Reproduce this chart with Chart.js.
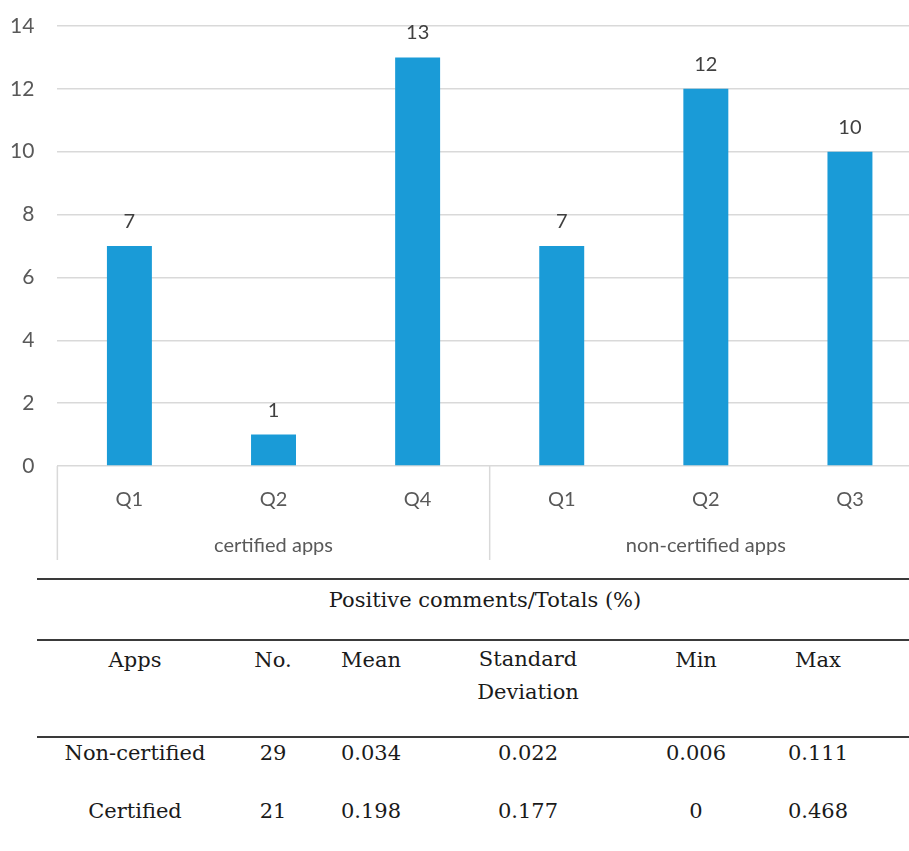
<!DOCTYPE html>
<html>
<head>
<meta charset="utf-8">
<script src="https://cdn.jsdelivr.net/npm/chart.js@4.4.0/dist/chart.umd.min.js"></script>
<style>
    body { margin: 0; background: #fff; width: 909px; height: 851px; overflow: hidden; position: relative; }
    #wrap { position: absolute; left: 0; top: 0; width: 922px; height: 566px; }
    .linea { position: absolute; left: 37px; width: 872px; height: 2px; background: #3a3a3a; }
    .txt { position: absolute; transform: translate(-50%, -50%); font-family: "DejaVu Serif", serif; font-size: 21px; color: #1a1a1a; white-space: nowrap; text-align: center; line-height: 33px; }
</style>
</head>
<body>
<div id="wrap"><canvas id="graficoQuartis"></canvas></div>
<div id="tabela"></div>
<script>
    // dados do grafico
    const quartis = ['Q1', 'Q2', 'Q4', 'Q1', 'Q2', 'Q3'];
    const grupos = ['certified apps', 'non-certified apps'];
    const tamanhoGrupos = [3, 3];
    const contagens = [7, 1, 13, 7, 12, 10];

    // dados da tabela
    const tituloTabela = 'Positive comments/Totals (%)';
    const cabecalhos = ['Apps', 'No.', 'Mean', 'Standard<br>Deviation', 'Min', 'Max'];
    const tipoApps = ['Non-certified', 'Certified'];
    const numApps = ['29', '21'];
    const medias = ['0.034', '0.198'];
    const desvios = ['0.022', '0.177'];
    const minimos = ['0.006', '0'];
    const maximos = ['0.111', '0.468'];

    const corTexto = '#595959';
    const fonteEixo = { family: 'Lato', size: 20 };

    // rotulos de valor em cima das barras
    const rotulosValor = {
        id: 'rotulosValor',
        afterDatasetsDraw(chart) {
            const ctx = chart.ctx;
            const meta = chart.getDatasetMeta(0);
            ctx.save();
            ctx.font = '20px Lato';
            ctx.fillStyle = '#404040';
            ctx.textAlign = 'center';
            ctx.textBaseline = 'alphabetic';
            meta.data.forEach(function(barra, i) {
                ctx.fillText(chart.data.datasets[0].data[i], barra.x, barra.y - 18);
            });
            ctx.restore();
        }
    };

    // linhas verticais separando os grupos
    const separadores = {
        id: 'separadores',
        afterDraw(chart) {
            const ctx = chart.ctx;
            const x = chart.scales.x;
            const topo = chart.chartArea.bottom;
            const fundo = chart.scales.x2.bottom + 2;
            const bordas = [x.left];
            let n = 0;
            tamanhoGrupos.forEach(function(t) {
                n += t;
                if (n < quartis.length) {
                    bordas.push((x.getPixelForValue(n - 1) + x.getPixelForValue(n)) / 2);
                } else {
                    bordas.push(x.right);
                }
            });
            ctx.save();
            ctx.strokeStyle = '#d9d9d9';
            ctx.lineWidth = 1.5;
            bordas.forEach(function(px) {
                ctx.beginPath();
                ctx.moveTo(px, topo);
                ctx.lineTo(px, fundo);
                ctx.stroke();
            });
            ctx.restore();
        }
    };

    function criarGrafico(canvasID) {
        const ctx = document.getElementById(canvasID).getContext('2d');

        new Chart(ctx, {
            type: 'bar',
            data: {
                labels: quartis,
                datasets: [{
                    label: 'Comments',
                    data: contagens,
                    backgroundColor: '#1a9bd7',
                    barPercentage: 0.312,
                    categoryPercentage: 1
                }]
            },
            options: {
                responsive: true,
                maintainAspectRatio: false,
                animation: false,
                layout: { padding: { left: 10, top: 26, right: 0, bottom: 8 } },
                plugins: {
                    legend: { display: false },
                    tooltip: { enabled: false }
                },
                scales: {
                    y: {
                        min: 0,
                        max: 14,
                        ticks: { stepSize: 2, color: corTexto, font: { family: 'Lato', size: 21 }, padding: 0 },
                        // marca de tick invisivel so para dar o espaco entre numero e grafico
                        grid: { color: '#d9d9d9', lineWidth: 1.5, drawTicks: true, tickLength: 23, tickColor: 'rgba(0,0,0,0)' },
                        border: { display: false }
                    },
                    x: {
                        ticks: { color: corTexto, font: fonteEixo, padding: 22 },
                        grid: { display: false, drawTicks: false },
                        border: { display: false }
                    },
                    x2: {
                        type: 'category',
                        labels: grupos,
                        position: 'bottom',
                        offset: true,
                        ticks: { color: corTexto, font: fonteEixo, padding: 0 },
                        grid: { display: false, drawTicks: false },
                        border: { display: false }
                    }
                }
            },
            plugins: [rotulosValor, separadores]
        });
    }

    function criarTabela() {
        const t = document.getElementById('tabela');
        const colunas = [135, 273, 371, 528, 696, 818];
        let html = '';
        [579, 640, 737].forEach(function(y) {
            html += '<div class="linea" style="top:' + (y - 1) + 'px"></div>';
        });
        html += '<div class="txt" style="left:485px;top:600px">' + tituloTabela + '</div>';
        cabecalhos.forEach(function(c, i) {
            html += '<div class="txt" style="left:' + colunas[i] + 'px;top:' + (c.indexOf('<br>') > 0 ? 676 : 660) + 'px">' + c + '</div>';
        });
        const linhas = [tipoApps, numApps, medias, desvios, minimos, maximos];
        [753, 811].forEach(function(y, r) {
            linhas.forEach(function(col, i) {
                html += '<div class="txt" style="left:' + colunas[i] + 'px;top:' + y + 'px">' + col[r] + '</div>';
            });
        });
        t.innerHTML = html;
    }

    criarGrafico('graficoQuartis');
    criarTabela();
</script>
</body>
</html>
